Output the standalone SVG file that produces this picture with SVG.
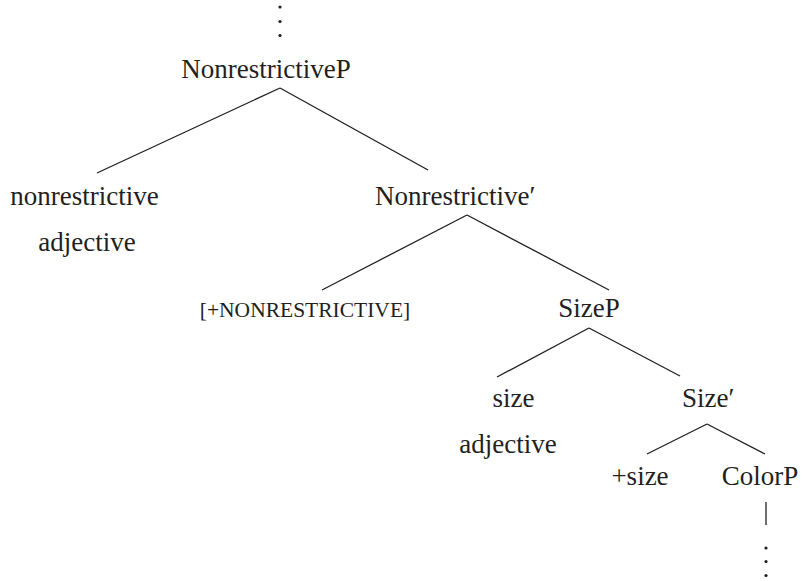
<svg xmlns="http://www.w3.org/2000/svg" width="806" height="581" viewBox="0 0 806 581">
<style>
text{font-family:"Liberation Serif","Times New Roman",serif;font-size:27px;fill:#231f20}
.sc{font-size:21.5px}
line{stroke:#231f20;stroke-width:1.3}
circle{fill:#231f20}
</style>
<rect width="806" height="581" fill="#fff"/>
<g id="connectors">
<line x1="280" y1="88" x2="97" y2="173"/>
<line x1="280" y1="88" x2="428" y2="170"/>
<line x1="467" y1="215" x2="322" y2="290"/>
<line x1="467" y1="215" x2="609" y2="290"/>
<line x1="589" y1="328" x2="497" y2="377"/>
<line x1="589" y1="328" x2="680" y2="376"/>
<line x1="707" y1="424" x2="647" y2="454"/>
<line x1="707" y1="424" x2="765" y2="454"/>
<line x1="766" y1="502" x2="766" y2="525"/>
</g>
<g id="top-dots"><circle cx="280" cy="7" r="1.6"/><circle cx="280" cy="21.5" r="1.6"/><circle cx="280" cy="35.5" r="1.6"/></g>
<g id="n-NonrestrictiveP"><text x="266" y="77.5" text-anchor="middle">NonrestrictiveP</text></g>
<g id="n-nonrestrictive-adj"><text x="84.5" y="204.5" text-anchor="middle">nonrestrictive</text><text x="87" y="251" text-anchor="middle">adjective</text></g>
<g id="n-Nonrestrictive-bar"><text x="375" y="205">Nonrestrictive′</text></g>
<g id="n-feature"><text class="sc" x="305" y="317" text-anchor="middle">[+NONRESTRICTIVE]</text></g>
<g id="n-SizeP"><text x="589" y="317" text-anchor="middle">SizeP</text></g>
<g id="n-size-adj"><text x="513.5" y="407" text-anchor="middle">size</text><text x="508" y="453" text-anchor="middle">adjective</text></g>
<g id="n-Size-bar"><text x="682" y="407">Size′</text></g>
<g id="n-plus-size"><text x="640" y="485" text-anchor="middle">+size</text></g>
<g id="n-ColorP"><text x="760" y="485" text-anchor="middle">ColorP</text></g>
<g id="bottom-dots"><circle cx="766" cy="548" r="1.6"/><circle cx="766" cy="561.5" r="1.6"/><circle cx="766" cy="575.5" r="1.6"/></g>
</svg>
